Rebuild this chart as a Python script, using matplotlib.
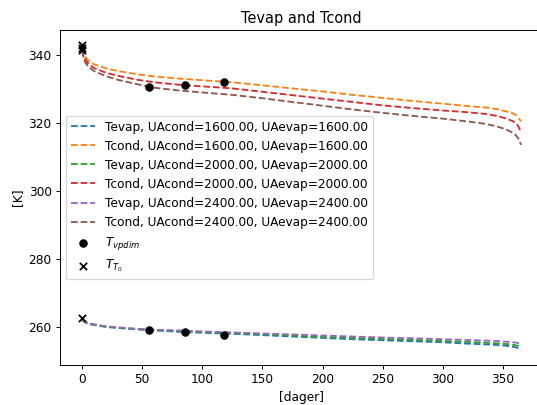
import matplotlib
matplotlib.use("Agg")
import matplotlib.pyplot as plt
import numpy as np

days = [0, 2, 5, 10, 20, 30, 45, 60, 80, 100, 125, 150, 175, 200, 225,
        250, 275, 300, 320, 335, 345, 352, 358, 361, 363, 365]

# condenser temperatures [K]
tcond_1600 = [342.3, 340.0, 338.6, 337.4, 336.2, 335.4, 334.5, 333.8, 333.2, 332.7,
              332.1, 331.2, 330.3, 329.4, 328.4, 327.5, 326.6, 325.8, 325.1, 324.7,
              324.2, 323.6, 323.0, 322.4, 321.6, 320.6]
tcond_2000 = [341.8, 339.2, 337.7, 336.3, 334.9, 334.0, 332.9, 332.1, 331.4, 330.9,
              330.3, 329.3, 328.3, 327.3, 326.3, 325.3, 324.5, 323.8, 323.3, 322.8,
              322.2, 321.5, 320.7, 320.0, 319.0, 317.2]
tcond_2400 = [341.3, 338.4, 336.8, 335.4, 333.9, 332.8, 331.6, 330.5, 329.7, 329.1,
              328.4, 327.4, 326.3, 325.2, 324.1, 323.1, 322.2, 321.4, 320.6, 319.9,
              319.1, 318.3, 317.3, 316.4, 315.4, 313.7]

# evaporator temperatures [K]
tevap_1600 = [262.3, 261.6, 261.0, 260.7, 260.1, 259.8, 259.4, 259.1, 258.7, 258.4,
              258.1, 257.7, 257.3, 256.9, 256.5, 256.2, 255.9, 255.6, 255.2, 255.0,
              254.8, 254.6, 254.3, 254.1, 253.8, 253.4]
tevap_2000 = [262.3, 261.6, 261.1, 260.8, 260.2, 259.9, 259.5, 259.2, 258.9, 258.6,
              258.3, 258.0, 257.6, 257.2, 256.9, 256.6, 256.3, 256.0, 255.7, 255.5,
              255.3, 255.1, 254.9, 254.7, 254.5, 254.1]
tevap_2400 = [262.3, 261.7, 261.2, 260.9, 260.3, 260.0, 259.6, 259.3, 259.1, 258.8,
              258.5, 258.2, 257.9, 257.6, 257.3, 257.0, 256.8, 256.5, 256.3, 256.1,
              256.0, 255.8, 255.6, 255.5, 255.3, 255.1]

ua_values = [1600, 2000, 2400]

# measured points
vpdim_days = [56, 86, 118, 56, 86, 118]
vpdim_temp = [330.8, 331.4, 332.2, 259.3, 258.5, 257.8]
t0_days = [0, 0, 0, 0]
t0_temp = [343.0, 342.3, 341.7, 262.8]

dpi = 87
fig = plt.figure(figsize=(537/dpi, 405/dpi), dpi=dpi)
ax = fig.add_axes([60/537, 40/405, 483/537, 335/405])

pairs = [(tevap_1600, tcond_1600), (tevap_2000, tcond_2000), (tevap_2400, tcond_2400)]
for ua, (tev, tco) in zip(ua_values, pairs):
    ax.plot(days, tev, '--', label=f"Tevap, UAcond={ua:.2f}, UAevap={ua:.2f}")
    ax.plot(days, tco, '--', label=f"Tcond, UAcond={ua:.2f}, UAevap={ua:.2f}")

ax.scatter(vpdim_days, vpdim_temp, color='black', marker='o', label=r'$T_{vpdim}$', zorder=3)
ax.scatter(t0_days, t0_temp, color='black', marker='x', label=r'$T_{T_0}$', zorder=3)

ax.set_title("Tevap and Tcond")
ax.set_xlabel("[dager]")
ax.set_ylabel("[K]")
ax.legend(loc='center left')

fig.savefig("out.png", dpi=dpi)
